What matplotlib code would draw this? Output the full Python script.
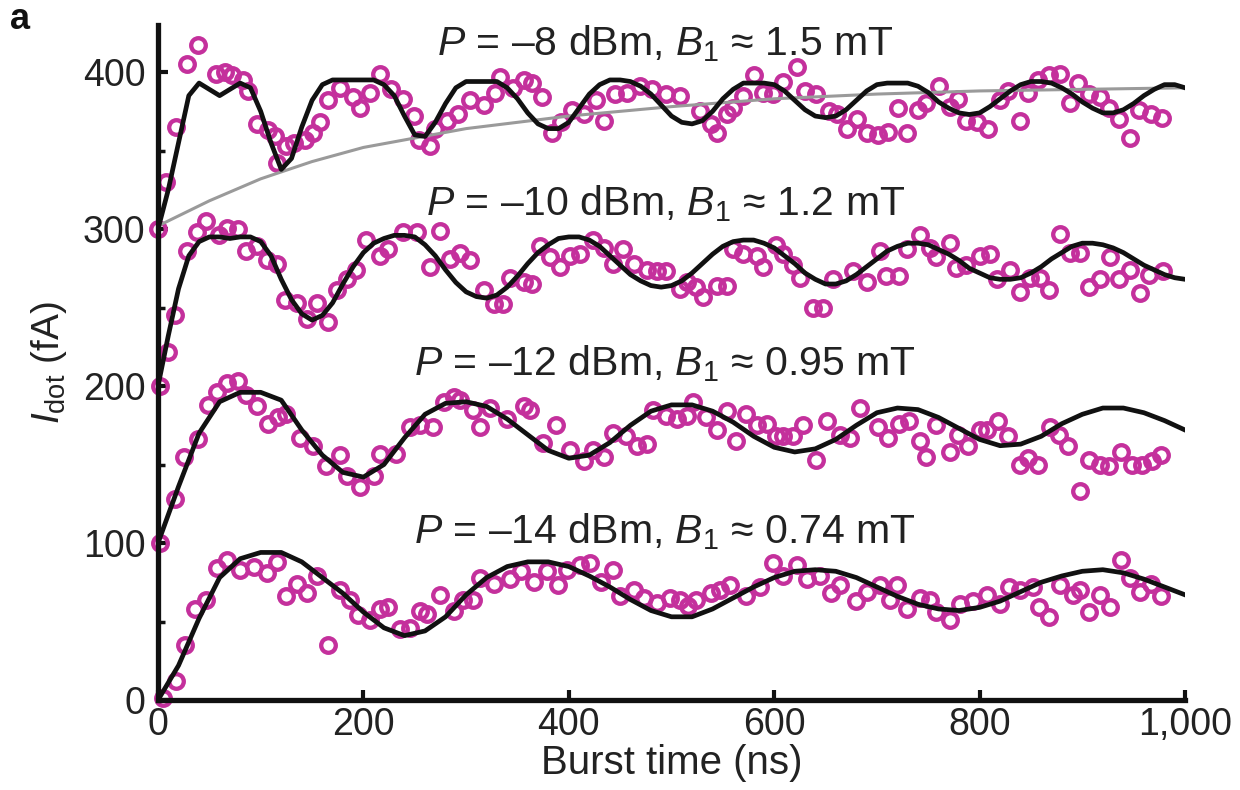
import matplotlib
matplotlib.use('Agg')
import matplotlib.pyplot as plt
import numpy as np

# ---- measured data (burst time in ns, current in fA) ----
t_m8 = [0, 8, 18, 28, 39, 56, 65, 72, 83, 88, 96, 107, 114, 116, 125, 132, 143, 151, 158, 166,
        177, 190, 197, 206, 216, 227, 239, 249, 254, 265, 270, 281, 292, 304, 317, 328, 333, 346, 356, 364,
        374, 384, 392, 403, 415, 426, 434, 445, 457, 469, 481, 495, 508, 528, 538, 544, 554, 560, 570, 580,
        589, 599, 609, 622, 630, 641, 653, 661, 671, 681, 690, 701, 711, 721, 729, 740, 748, 760, 771, 779,
        787, 797, 808, 820, 828, 839, 847, 857, 868, 878, 888, 896, 907, 917, 926, 936, 946, 955, 967, 978]
i_m8 = [300, 330, 365, 405, 417, 399, 400, 398, 395, 388, 367, 363, 359, 342, 353, 355, 357, 361, 368, 382,
        390, 384, 377, 387, 399, 389, 383, 372, 357, 353, 364, 369, 373, 382, 379, 387, 397, 390, 395, 393,
        384, 361, 368, 376, 373, 382, 369, 386, 387, 391, 389, 386, 385, 375, 367, 361, 373, 377, 385, 398,
        387, 386, 394, 403, 388, 386, 375, 373, 364, 370, 361, 360, 362, 377, 361, 376, 380, 391, 378, 383,
        369, 368, 364, 382, 388, 369, 387, 395, 398, 399, 380, 393, 386, 384, 377, 370, 358, 376, 373, 371]

t_m10 = [2, 10, 17, 28, 38, 47, 59, 67, 78, 86, 96, 106, 116, 124, 135, 145, 155, 166, 174, 184,
         193, 203, 216, 224, 239, 252, 265, 275, 284, 294, 304, 317, 327, 336, 343, 356, 364, 372, 382, 391,
         401, 411, 424, 434, 443, 453, 463, 476, 486, 495, 508, 515, 524, 531, 544, 554, 560, 570, 583, 589,
         602, 609, 618, 625, 638, 648, 657, 677, 690, 703, 709, 722, 729, 742, 752, 758, 771, 777, 787, 800,
         810, 817, 830, 839, 849, 859, 868, 878, 888, 898, 907, 917, 927, 936, 946, 956, 965, 979]
i_m10 = [200, 222, 245, 286, 298, 305, 296, 301, 300, 286, 289, 280, 278, 255, 253, 243, 253, 241, 261, 268,
         274, 293, 283, 287, 298, 298, 276, 299, 281, 285, 280, 261, 252, 252, 269, 266, 265, 289, 282, 276,
         283, 284, 293, 288, 278, 287, 278, 274, 273, 273, 262, 266, 263, 257, 264, 264, 287, 284, 283, 276,
         290, 284, 277, 269, 250, 250, 268, 273, 266, 286, 270, 270, 287, 296, 288, 282, 291, 275, 277, 283,
         284, 268, 274, 260, 269, 269, 261, 297, 285, 285, 263, 268, 282, 268, 274, 259, 271, 273]

t_m12 = [2, 17, 25, 39, 49, 57, 67, 78, 86, 96, 107, 117, 125, 138, 151, 164, 177, 184, 197, 210,
         216, 232, 245, 255, 268, 278, 288, 294, 307, 314, 323, 340, 356, 362, 375, 388, 401, 415, 424, 434,
         443, 456, 466, 476, 482, 495, 505, 515, 521, 534, 544, 554, 563, 573, 583, 593, 602, 609, 618, 628,
         641, 651, 664, 674, 684, 701, 711, 722, 731, 742, 748, 758, 771, 779, 789, 800, 807, 818, 828, 839,
         847, 857, 869, 877, 886, 898, 907, 917, 926, 938, 948, 958, 968, 977]
i_m12 = [100, 128, 155, 166, 188, 196, 202, 203, 194, 187, 176, 180, 182, 167, 162, 149, 156, 143, 136, 143,
         157, 157, 174, 175, 174, 190, 193, 191, 185, 174, 186, 179, 187, 185, 164, 175, 159, 152, 159, 155,
         170, 168, 162, 163, 185, 181, 179, 181, 190, 180, 172, 184, 165, 182, 175, 176, 168, 168, 168, 175,
         153, 178, 169, 167, 186, 174, 167, 176, 178, 165, 155, 175, 158, 169, 162, 172, 172, 178, 168, 150,
         154, 150, 174, 169, 162, 133, 153, 150, 149, 158, 150, 150, 152, 156]

t_m14 = [5, 18, 26, 36, 47, 57, 67, 80, 93, 106, 116, 125, 135, 145, 155, 166, 177, 187, 195, 206,
         216, 224, 236, 245, 255, 262, 275, 288, 297, 307, 314, 327, 343, 353, 366, 379, 389, 398, 411, 421,
         431, 443, 450, 463, 473, 486, 499, 508, 516, 524, 538, 547, 557, 573, 586, 599, 609, 622, 632, 645,
         655, 664, 680, 690, 703, 713, 720, 729, 742, 752, 758, 771, 781, 794, 807, 820, 829, 839, 852, 858,
         868, 878, 891, 898, 907, 917, 927, 938, 946, 956, 967, 977]
i_m14 = [1, 12, 35, 58, 64, 84, 89, 83, 85, 81, 88, 66, 74, 68, 79, 35, 70, 64, 54, 51,
         58, 59, 45, 46, 57, 55, 67, 57, 64, 64, 78, 74, 77, 82, 75, 82, 73, 83, 86, 87,
         75, 83, 66, 70, 65, 62, 65, 64, 60, 64, 68, 70, 73, 66, 72, 87, 79, 86, 77, 79,
         68, 73, 63, 69, 73, 64, 73, 58, 65, 64, 56, 51, 61, 63, 67, 61, 72, 70, 72, 59,
         53, 73, 67, 70, 56, 67, 59, 89, 78, 69, 74, 66]

# ---- fitted curves ----
fit_t10 = np.arange(0, 1001, 10)
fit_m8 = [300, 325, 355, 385, 393, 389, 385, 389, 393, 390, 375, 355, 338, 345, 365, 382, 392, 395, 395, 395,
          395, 395, 392, 385, 372, 360, 359, 368, 380, 390, 394, 394, 394, 394, 390, 383, 374, 367, 364, 364,
          368, 377, 386, 392, 395, 395, 394, 391, 386, 379, 372, 368, 367, 369, 375, 383, 389, 393, 393, 393,
          392, 388, 382, 376, 372, 371, 372, 376, 382, 388, 392, 393, 393, 393, 391, 387, 381, 377, 374, 373,
          374, 378, 383, 388, 392, 394, 394, 393, 390, 386, 381, 377, 374, 374, 376, 380, 385, 389, 392, 392, 390]
fit_m10 = [200, 232, 262, 283, 292, 295, 295, 294, 295, 295, 292, 283, 268, 255, 246, 242, 245, 253, 265, 276,
           285, 291, 294, 296, 296, 295, 290, 283, 274, 266, 260, 257, 256, 258, 263, 270, 278, 285, 290, 294,
           295, 295, 293, 289, 283, 277, 271, 267, 264, 263, 264, 267, 272, 278, 284, 289, 292, 293, 293, 291,
           288, 283, 278, 272, 268, 265, 265, 267, 271, 276, 281, 286, 289, 291, 291, 290, 287, 284, 280, 275,
           272, 269, 268, 268, 269, 272, 276, 281, 285, 289, 291, 291, 290, 288, 285, 281, 277, 274, 271, 269, 268]
fit_t20 = np.arange(0, 1001, 20)
fit_m12 = [100, 136, 170, 190, 196, 196, 191, 172, 156, 145, 142, 150, 167, 182, 189, 190, 187, 179, 169, 159,
           154, 156, 164, 175, 184, 188, 188, 184, 177, 168, 161, 158, 160, 166, 175, 183, 186, 185, 180, 173,
           166, 162, 163, 168, 176, 182, 186, 186, 183, 178, 172]
fit_m14 = [0, 22, 52, 78, 90, 94, 94, 88, 78, 68, 56, 46, 41, 44, 53, 67, 78, 85, 88, 88,
           85, 79, 72, 64, 57, 53, 53, 58, 65, 72, 78, 82, 83, 82, 78, 72, 66, 61, 58, 57,
           59, 63, 69, 75, 79, 82, 83, 81, 77, 72, 67]
# grey envelope of the -8 dBm trace
env_t = [0, 50, 100, 150, 200, 250, 300, 400, 500, 600, 700, 800, 900, 1000]
env_i = [302, 318, 332, 343, 352, 358, 364, 372, 378, 383, 386, 388, 389, 390]

labels = [r"$P$ = –8 dBm, $B_1$ ≈ 1.5 mT",
          r"$P$ = –10 dBm, $B_1$ ≈ 1.2 mT",
          r"$P$ = –12 dBm, $B_1$ ≈ 0.95 mT",
          r"$P$ = –14 dBm, $B_1$ ≈ 0.74 mT"]
label_y = [418, 316, 214, 107]

plt.rcParams['font.family'] = ['Liberation Sans', 'DejaVu Sans']
plt.rcParams['mathtext.fontset'] = 'custom'
plt.rcParams['mathtext.rm'] = 'Liberation Sans'
plt.rcParams['mathtext.it'] = 'Liberation Sans:italic'

txt = '#222222'
pink = '#c4309c'

fig = plt.figure(figsize=(12.4, 7.9), dpi=100)
ax = fig.add_axes([158/1240, 90/790, 1027/1240, 675/790])

# data points
for t, i in [(t_m8, i_m8), (t_m10, i_m10), (t_m12, i_m12), (t_m14, i_m14)]:
    ax.plot(t, i, linestyle='none', marker='o', markersize=10.5, markeredgewidth=3.1,
            markerfacecolor='none', markeredgecolor=pink, clip_on=False, zorder=2)

# fits
ax.plot(env_t, env_i, color='#9a9a9a', lw=2.2, zorder=3)
ax.plot(fit_t10, fit_m8, color='#111111', lw=3.4, zorder=4)
ax.plot(fit_t10, fit_m10, color='#111111', lw=3.4, zorder=4)
ax.plot(fit_t20, fit_m12, color='#111111', lw=3.4, zorder=4)
ax.plot(fit_t20, fit_m14, color='#111111', lw=3.4, zorder=4)

for s, y in zip(labels, label_y):
    ax.text(494, y, s, ha='center', va='center', fontsize=29.5, color=txt)

ax.set_xlim(0, 1000)
ax.set_ylim(0, 430)
ax.set_xticks([0, 200, 400, 600, 800, 1000])
ax.set_xticklabels(['0', '200', '400', '600', '800', '1,000'])
ax.set_yticks([0, 100, 200, 300, 400])
ax.set_yticks([50, 150, 250, 350], minor=True)
ax.tick_params(axis='both', which='major', direction='in', length=7, width=3,
               labelsize=27, labelcolor=txt, color='#111111')
ax.tick_params(axis='x', pad=5)
ax.tick_params(axis='y', pad=9)
ax.tick_params(axis='y', which='minor', direction='in', length=5, width=2.5, color='#111111')

for side in ['top', 'right']:
    ax.spines[side].set_visible(False)
for side in ['left', 'bottom']:
    ax.spines[side].set_linewidth(3.8)
    ax.spines[side].set_color('#111111')

ax.set_xlabel('Burst time (ns)', fontsize=29, color=txt, labelpad=1)
ax.set_ylabel(r'$I_\mathrm{dot}$ (fA)', fontsize=28, color=txt, labelpad=10)

fig.text(0.008, 0.975, 'a', fontsize=26, fontweight='bold', va='center', ha='left', color='#111111')

fig.savefig('out.png', dpi=100)
